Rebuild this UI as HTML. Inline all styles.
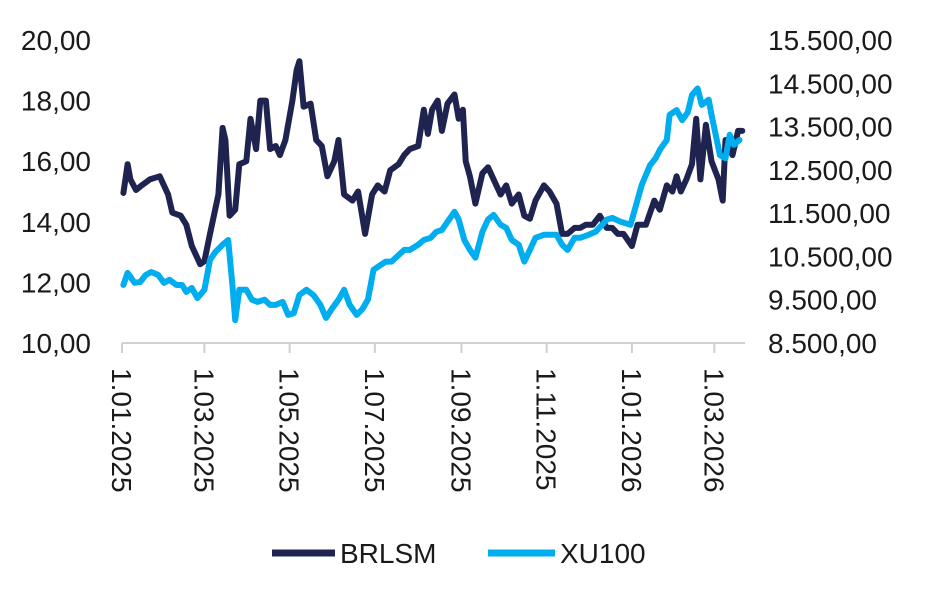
<!DOCTYPE html>
<html><head><meta charset="utf-8"><style>
body{margin:0;background:#fff;}
svg text{font-family:"Liberation Sans",sans-serif;fill:#1a1a1a;}
</style></head><body>
<svg id="chart" width="936" height="584" viewBox="0 0 936 584" xmlns="http://www.w3.org/2000/svg"></svg>
<script>
const leftTicks=[10,12,14,16,18,20];
const leftTickLabels=["10,00","12,00","14,00","16,00","18,00","20,00"];
const rightTicks=[8500,9500,10500,11500,12500,13500,14500,15500];
const rightTickLabels=["8.500,00","9.500,00","10.500,00","11.500,00","12.500,00","13.500,00","14.500,00","15.500,00"];
const xTickDays=[0,59,120,181,243,304,365,424];
const xTickLabels=["1.01.2025","1.03.2025","1.05.2025","1.07.2025","1.09.2025","1.11.2025","1.01.2026","1.03.2026"];
const brlsmDays=[1,4,6,10,14,20,27,33,36,42,46,50,56,59,63,69,72,74,77,81,84,89,92,96,99,103,106,110,113,117,122,125,127,130,135,139,143,147,152,155,159,165,169,174,179,183,188,192,198,202,206,212,216,219,222,226,229,233,238,241,244,246,249,253,258,262,266,271,275,279,284,288,292,296,302,306,311,315,319,324,328,332,337,342,347,351,355,359,365,369,375,381,385,390,394,397,400,404,408,411,414,418,422,427,430,432,437,441,444];
const brlsmValues=[14.95,15.9,15.4,15.05,15.2,15.4,15.5,14.9,14.3,14.2,13.9,13.2,12.6,12.7,13.6,14.9,17.1,16.7,14.2,14.4,15.9,16.0,17.4,16.4,18.0,18.0,16.4,16.5,16.2,16.7,18.0,19.0,19.3,17.8,17.9,16.7,16.5,15.5,16.0,16.7,14.9,14.7,15.0,13.6,14.9,15.2,15.0,15.7,15.9,16.2,16.4,16.5,17.7,16.9,17.7,18.0,17.0,17.9,18.2,17.4,17.7,16.0,15.5,14.6,15.6,15.8,15.4,14.9,15.2,14.6,14.9,14.2,14.1,14.7,15.2,15.0,14.6,13.6,13.6,13.8,13.8,13.9,13.9,14.2,13.8,13.8,13.6,13.6,13.2,13.9,13.9,14.7,14.4,15.2,15.0,15.5,15.0,15.4,15.9,17.4,15.4,17.2,16.0,15.4,14.7,16.7,16.2,17.0,17.0];
const xu100Days=[1,4,9,13,17,21,26,30,34,39,43,46,50,54,59,63,67,72,76,79,81,84,89,93,97,102,106,110,115,119,123,127,132,137,142,146,150,155,159,163,168,172,176,180,185,189,193,198,202,206,212,216,221,225,229,233,238,241,245,249,253,258,262,266,271,275,279,284,288,292,296,302,306,311,315,319,324,328,334,339,347,351,357,364,368,372,378,382,385,390,392,397,401,405,408,412,415,420,422,425,428,432,435,438,442];
const xu100Values=[9842,10120,9890,9910,10070,10140,10070,9890,9960,9840,9840,9680,9770,9540,9730,10420,10610,10770,10880,9840,9030,9730,9730,9500,9450,9500,9380,9380,9450,9150,9190,9610,9730,9610,9380,9080,9280,9500,9730,9380,9150,9280,9500,10190,10300,10380,10380,10530,10650,10650,10770,10880,10930,11070,11110,11300,11530,11350,10880,10650,10470,11070,11350,11460,11230,11160,10880,10770,10380,10650,10930,11000,11000,11000,10770,10650,10930,10930,11000,11070,11350,11390,11300,11230,11690,12150,12610,12770,12960,13190,13770,13880,13650,13830,14230,14380,14000,14120,13770,13310,12840,12770,13310,13080,13190];

const svg=document.getElementById('chart');
const NS='http://www.w3.org/2000/svg';
const X0=122,PX_PER_DAY=1.397,YT=40,YB=343;
const xS=d=>X0+d*PX_PER_DAY;
const yL=v=>YB-(v-10)/(20-10)*(YB-YT);
const yR=v=>YB-(v-8500)/(15500-8500)*(YB-YT);
function mk(tag,attrs,parent){const e=document.createElementNS(NS,tag);for(const k in attrs)e.setAttribute(k,attrs[k]);(parent||svg).appendChild(e);return e;}

const gl=mk('g',{});


leftTicks.forEach((v,i)=>{const t=mk('text',{x:91,y:yL(v)+10,'text-anchor':'end','font-size':28},gl);t.textContent=leftTickLabels[i];

});
const gr=mk('g',{});


rightTicks.forEach((v,i)=>{const t=mk('text',{x:768,y:yR(v)+10,'text-anchor':'start','font-size':28},gr);t.textContent=rightTickLabels[i];

});

const gx=mk('g',{});


const ax=mk('line',{x1:X0,y1:YB,x2:745,y2:YB,stroke:'#d0d0d0','stroke-width':2},gx);


xTickDays.forEach((d,i)=>{const x=xS(d);
const tk=mk('line',{x1:x,y1:YB,x2:x,y2:YB+10,stroke:'#d0d0d0','stroke-width':2},gx);


const t=mk('text',{x:0,y:0,'font-size':28,transform:`translate(${x-10},368) rotate(90)`},gx);t.textContent=xTickLabels[i];

});

function line(days,vals,ys,color,name){const d=days.map((dd,i)=>(i?'L':'M')+xS(dd).toFixed(1)+','+ys(vals[i]).toFixed(1)).join('');
const p=mk('path',{d,fill:'none',stroke:color,'stroke-width':6,'stroke-linejoin':'round','stroke-linecap':'round'});

}
line(brlsmDays,brlsmValues,yL,'#1f2350','brlsm-line');
line(xu100Days,xu100Values,yR,'#00aeef','xu100-line');

const lg=mk('g',{});


const l1=mk('line',{x1:272,y1:553,x2:335,y2:553,stroke:'#1f2350','stroke-width':7},lg);


const t1=mk('text',{x:340,y:563,'font-size':28},lg);t1.textContent='BRLSM';


const l2=mk('line',{x1:488,y1:553,x2:555,y2:553,stroke:'#00aeef','stroke-width':7},lg);


const t2=mk('text',{x:560,y:563,'font-size':28},lg);t2.textContent='XU100';


</script>
</body></html>
